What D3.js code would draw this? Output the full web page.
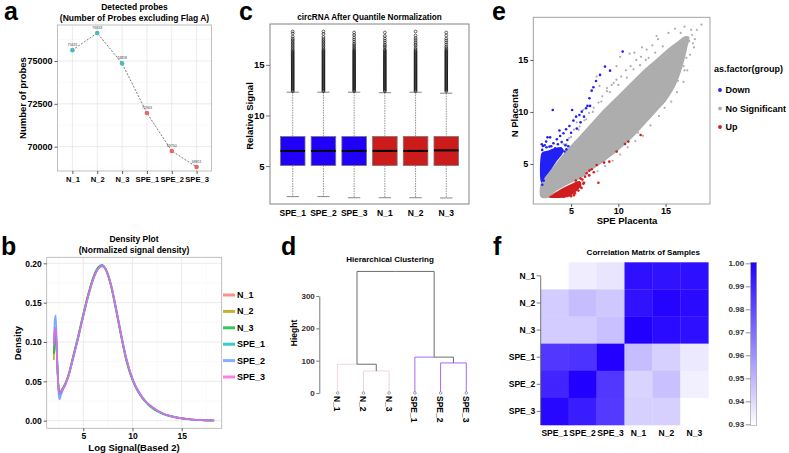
<!DOCTYPE html>
<html><head><meta charset="utf-8">
<script src="https://cdn.jsdelivr.net/npm/d3@7"></script>
<style>
body{margin:0;background:#fff;}
svg{font-family:"Liberation Sans", Arial, Helvetica, sans-serif;}
</style></head><body>
<svg id="fig" width="789" height="453"></svg>
<script>
// ---------------- DATA ----------------
// Panel a
const aSamples = ["N_1","N_2","N_3","SPE_1","SPE_2","SPE_3"];
const aGroups = ["N","N","N","SPE","SPE","SPE"];
const aProbeCounts = [75631, 76633, 74858, 71963, 69750, 68811];
const aYTicks = [70000, 72500, 75000];
const aYMinorTicks = [68750, 71250, 73750, 76250];

// Panel b
const bSamples = ["N_1","N_2","N_3","SPE_1","SPE_2","SPE_3"];
const bX = [2.0,2.1,2.2,2.3,2.4,2.5,2.6,2.7,2.9,3.2,3.6,4.0,4.5,5.0,5.5,6.0,6.5,6.9,7.3,7.8,8.3,8.8,9.3,9.8,10.3,10.8,11.3,11.8,12.5,13.2,14.0,15.0,16.0,17.0,18.3];
const bDensityN1 = [0.095,0.112,0.115,0.090,0.060,0.040,0.034,0.035,0.040,0.047,0.062,0.082,0.107,0.134,0.159,0.180,0.193,0.197,0.192,0.173,0.144,0.112,0.082,0.060,0.044,0.033,0.025,0.019,0.013,0.0085,0.0055,0.003,0.0015,0.0007,0.0002];
const bDensityN2 = [0.077,0.100,0.104,0.085,0.058,0.040,0.035,0.036,0.041,0.048,0.063,0.083,0.108,0.135,0.160,0.181,0.194,0.197,0.191,0.172,0.143,0.111,0.081,0.059,0.044,0.033,0.025,0.019,0.013,0.0085,0.0055,0.003,0.0015,0.0007,0.0002];
const bDensityN3 = [0.085,0.104,0.108,0.088,0.060,0.041,0.036,0.037,0.041,0.048,0.063,0.084,0.109,0.136,0.161,0.182,0.195,0.198,0.192,0.172,0.142,0.110,0.080,0.058,0.043,0.032,0.024,0.018,0.012,0.008,0.005,0.003,0.0015,0.0007,0.0002];
const bDensitySPE1 = [0.092,0.112,0.118,0.092,0.060,0.038,0.033,0.035,0.040,0.047,0.061,0.081,0.106,0.133,0.158,0.180,0.193,0.197,0.192,0.174,0.145,0.113,0.083,0.060,0.044,0.033,0.025,0.019,0.013,0.0085,0.0055,0.003,0.0015,0.0007,0.0002];
const bDensitySPE2 = [0.098,0.128,0.134,0.100,0.058,0.032,0.027,0.031,0.038,0.046,0.061,0.081,0.106,0.133,0.158,0.179,0.193,0.196,0.192,0.174,0.145,0.113,0.083,0.061,0.045,0.034,0.025,0.019,0.013,0.0085,0.0055,0.003,0.0015,0.0007,0.0002];
const bDensitySPE3 = [0.095,0.115,0.118,0.090,0.058,0.038,0.034,0.036,0.040,0.047,0.062,0.082,0.107,0.134,0.159,0.180,0.193,0.197,0.192,0.173,0.144,0.112,0.082,0.060,0.044,0.033,0.025,0.019,0.013,0.0085,0.0055,0.003,0.0015,0.0007,0.0002];
const bXTicks = [5,10,15];
const bXMinor = [2.5,7.5,12.5,17.5];
const bYTicks = [0,0.05,0.10,0.15,0.20];
const bYMinor = [0.025,0.075,0.125,0.175];

// Panel c
const cSamples = ["SPE_1","SPE_2","SPE_3","N_1","N_2","N_3"];
const cGroups = ["SPE","SPE","SPE","N","N","N"];
const cLowerWhisker = [1.98,1.98,1.87,1.87,1.87,1.85];
const cQ1 = [5.05,5.05,5.05,5.05,5.05,5.05];
const cMedian = [6.5,6.5,6.5,6.5,6.5,6.55];
const cQ3 = [7.92,7.92,7.92,7.92,7.92,7.92];
const cUpperWhisker = [12.3,12.3,12.3,12.25,12.3,12.2];
const cOutlierCore = [12.4,12.5,12.6,12.7,12.8,12.9,13.0,13.1,13.2,13.3,13.4,13.5,13.6,13.7,13.8,13.9,14.0,14.1,14.2,14.3,14.4,14.5,14.6,14.7,14.8,14.9,15.0,15.1,15.2,15.3,15.4,15.5,15.6,15.7,15.8,15.9,16.0,16.1,16.2,16.3,16.4];
const cOutlierTails = [
  [16.55,16.7,16.85,17.0,17.15,17.3,17.45,17.6,17.8,18.1,18.3],
  [16.5,16.65,16.8,16.95,17.1,17.25,17.4,17.55,17.75,18.05,18.3],
  [16.5,16.65,16.8,16.95,17.1,17.3,17.5,17.7,17.95,18.2],
  [16.5,16.7,16.85,17.0,17.2,17.4,17.6,17.85,18.2],
  [16.55,16.7,16.9,17.05,17.25,17.45,17.65,17.9,18.3],
  [16.5,16.65,16.8,17.0,17.2,17.4,17.6,17.9,18.2]
];
const cYTicks = [5,10,15];

// Panel d
const dLeaves = ["N_1","N_2","N_3","SPE_1","SPE_2","SPE_3"];
const dLeafGroups = ["N","N","N","SPE","SPE","SPE"];
const dMergeNames = ["m1","m2","m3","m4","root"];
const dMergeLeft = ["N_2","N_1","SPE_2","SPE_1","m2"];
const dMergeRight = ["N_3","m1","SPE_3","m3","m4"];
const dMergeHeight = [68, 89, 93, 111, 376];
const dYTicks = [0,100,200,300];

// Panel e
const eXTicks = [5,10,15];
const eYTicks = [5,10,15];
const eGroups = ["Down","No Significant","Up"];
const eGrayBand = [[1.8,1.8],[2.7,1.8],[3.3,2.3],[4.2,2.8],[5.0,3.2],[6.0,3.6],[7.0,4.3],[8.0,4.9],[9.0,5.6],[10.0,6.3],[11.0,7.1],[12.0,8.0],[13.0,9.0],[14.0,10.0],[15.0,11.0],[15.8,12.1],[16.4,13.3],[16.9,14.7],[17.3,16.2],[17.5,17.2],[17.1,17.3],[16.3,16.8],[15.4,16.2],[14.4,15.4],[13.4,14.6],[12.4,13.8],[11.4,12.9],[10.4,12.0],[9.4,11.1],[8.4,10.2],[7.4,9.2],[6.4,8.2],[5.4,7.2],[4.4,6.2],[3.5,5.2],[2.8,4.4],[2.2,3.7],[1.8,3.2]];
const eGrayPoints = [[3.0,5.6],[3.6,6.3],[4.2,6.9],[4.8,7.5],[5.3,8.3],[5.9,8.6],[6.4,9.2],[6.9,9.9],[7.4,10.4],[7.9,10.9],[8.3,11.5],[8.8,12.0],[9.3,12.6],[9.8,13.1],[10.3,13.4],[10.8,14.0],[11.3,14.4],[11.9,15.0],[12.4,15.3],[13.0,16.0],[13.6,16.4],[14.2,17.0],[14.05,17.3],[12.5,16.2],[11.2,15.6],[11.7,15.7],[10.2,15.3],[9.8,14.4],[8.0,12.5],[7.7,13.4],[8.8,12.3],[9.5,12.8],[6.3,10.2],[5.6,9.0],[15.3,17.6],[16.0,18.0],[17.0,18.2],[18.3,17.9],[18.8,18.4],[17.5,16.8],[3.8,2.1],[4.6,2.6],[5.4,3.1],[6.2,3.3],[7.0,3.9],[7.8,4.3],[8.6,4.8],[9.4,5.3],[10.2,5.9],[11.0,6.6],[11.8,7.2],[12.1,8.0],[12.6,7.7],[12.6,9.7],[13.4,8.7],[13.7,10.2],[14.3,9.6],[14.9,10.4],[15.6,11.0],[16.2,11.9],[16.9,12.9],[17.3,14.0],[17.6,15.5],[16.2,13.4],[16.9,14.4],[14.6,12.6],[18.0,16.2],[13.2,15.2],[12.3,14.5],[17.8,17.4],[18.1,17.0],[17.7,17.9],[16.6,17.6],[17.9,16.6],[17.2,15.2],[16.7,15.9],[15.9,14.6],[16.5,14.8],[15.2,13.6],[14.7,16.3],[13.9,15.7],[12.9,15.0],[11.6,14.1],[10.9,13.3],[10.0,12.6],[9.1,11.9],[8.2,11.0],[7.3,10.0],[6.6,9.3],[5.8,8.3],[5.0,7.6],[4.5,6.9],[3.9,6.1],[3.3,5.6],[13.0,10.1],[14.2,11.2],[15.3,12.0],[11.4,8.7],[10.3,7.6],[9.2,6.7],[8.2,5.8],[7.3,5.1],[6.4,4.4],[5.6,3.8],[4.8,3.3],[12.3,9.1],[16.3,13.0],[17.0,14.0]];
const eBlueArea = [[1.85,3.2],[2.3,3.8],[2.9,4.5],[3.5,5.3],[4.1,6.0],[4.2,6.4],[3.8,6.6],[3.2,6.5],[2.6,6.3],[2.1,6.2],[1.85,6.0]];
const eBluePoints = [[10.46,15.8],[9.12,13.97],[8.59,14.36],[8.06,13.56],[7.64,12.98],[7.36,12.37],[7.18,12.05],[6.94,11.31],[6.73,10.58],[7.01,10.58],[6.58,10.35],[6.13,10.03],[6.37,9.55],[5.88,9.71],[5.53,9.55],[5.25,9.17],[5.11,10.19],[4.82,8.65],[4.47,8.33],[4.19,7.95],[3.84,7.69],[3.77,8.21],[3.49,7.37],[3.06,10.19],[2.78,7.56],[2.5,7.56],[2.36,7.15],[2.01,6.73],[1.94,6.35],[2.71,6.67],[3.13,6.99],[3.31,6.51],[4.0,7.1],[4.6,7.3],[4.4,6.8],[3.6,6.9],[2.2,6.8],[1.9,6.9],[5.0,8.0],[5.6,8.4],[6.0,9.0],[4.5,6.4],[4.7,6.7],[4.3,6.2],[3.9,6.5],[2.9,6.7],[2.4,6.6],[1.95,3.0],[2.1,3.4]];
const eRedArea = [[2.6,1.8],[3.0,2.05],[3.6,2.4],[4.4,2.8],[5.2,3.15],[5.9,3.35],[6.1,3.0],[5.7,2.5],[5.1,2.05],[4.6,1.8]];
const eRedPoints = [[6.65,4.1],[6.94,4.36],[7.18,4.49],[6.48,3.78],[7.71,4.9],[8.49,5.13],[9.05,5.22],[7.89,3.2],[9.82,6.19],[10.7,6.92],[11.06,7.15],[12.36,7.79],[5.95,2.82],[5.77,2.44],[5.42,2.18],[4.72,2.34],[6.37,3.2],[6.2,3.5],[5.0,1.9],[5.3,2.0],[6.9,3.9],[7.4,4.2],[6.3,3.1],[6.1,2.7],[5.5,3.4],[4.2,1.85],[3.8,1.9],[6.0,3.6]];

// Panel f
const fRows = ["N_1","N_2","N_3","SPE_1","SPE_2","SPE_3"];
const fCols = ["SPE_1","SPE_2","SPE_3","N_1","N_2","N_3"];
const fCorr = [
  [0.930,0.935,0.937,0.996,0.995,0.996],
  [0.944,0.948,0.945,0.995,0.999,0.997],
  [0.944,0.944,0.947,1.000,0.997,0.996],
  [0.985,0.986,1.000,0.948,0.943,0.936],
  [0.990,1.000,0.985,0.942,0.947,0.934],
  [0.998,0.992,0.984,0.943,0.943,0.930]
];
const fLegendTicks = [0.93,0.94,0.95,0.96,0.97,0.98,0.99,1.00];

// ---------------- DRAWING ----------------
const FONT = "'Liberation Sans', Arial, Helvetica, sans-serif";
const svg = d3.select("#fig");
svg.append("rect").attr("width",789).attr("height",453).attr("fill","#fff");

function txt(g, x, y, s, o = {}) {
  const t = g.append("text").attr("x", x).attr("y", y).text(s)
    .attr("font-family", FONT)
    .attr("font-size", o.size || 9)
    .attr("font-weight", o.weight || "bold")
    .attr("text-anchor", o.anchor || "middle")
    .attr("fill", o.fill || "#000");
  if (o.baseline) t.attr("dominant-baseline", o.baseline);
  if (o.rotate) t.attr("transform", `rotate(${o.rotate},${x},${y})`);
  return t;
}
function styleAxis(sel, size, o = {}) {
  sel.attr("font-family", FONT);
  if (!o.keepDomain) sel.select(".domain").remove();
  else sel.select(".domain").attr("stroke", o.domainColor || "#444").attr("stroke-width", 0.8);
  sel.selectAll(".tick line").attr("stroke", o.tickColor || "#333").attr("stroke-width", 0.8);
  sel.selectAll(".tick text").attr("font-size", size).attr("font-weight", o.weight || "bold")
    .attr("fill", o.fill || "#000").attr("font-family", FONT);
}

// panel letters
[["a",4,20],["b",1,255],["c",239,20],["d",281,255],["e",492,20],["f",493,255]].forEach(([l,x,y]) =>
  txt(svg, x, y, l, {size: 25, anchor: "start"}));

// ===== Panel a =====
(function(){
  const g = svg.append("g");
  const X0 = 57.5, X1 = 211.5, Y0 = 25, Y1 = 171;
  const x = d3.scalePoint().domain(aSamples).range([X0, X1]).padding(0.6);
  const y = d3.scaleLinear().domain([68580, 77100]).range([Y1, Y0]);
  const colour = d3.scaleOrdinal().domain(["N","SPE"]).range(["#4DB8C0","#E8685E"]);
  aYMinorTicks.forEach(v => g.append("line").attr("x1",X0).attr("x2",X1).attr("y1",y(v)).attr("y2",y(v)).attr("stroke","#F2F2F2").attr("stroke-width",0.5));
  aYTicks.forEach(v => g.append("line").attr("x1",X0).attr("x2",X1).attr("y1",y(v)).attr("y2",y(v)).attr("stroke","#E6E6E6").attr("stroke-width",0.8));
  aSamples.forEach(s => g.append("line").attr("x1",x(s)).attr("x2",x(s)).attr("y1",Y0).attr("y2",Y1).attr("stroke","#E6E6E6").attr("stroke-width",0.8));
  g.append("rect").attr("x",X0).attr("y",Y0).attr("width",X1-X0).attr("height",Y1-Y0).attr("fill","none").attr("stroke","#B0B0B0").attr("stroke-width",0.8);
  const line = d3.line().x((d,i)=>x(aSamples[i])).y(d=>y(d));
  g.append("path").attr("d", line(aProbeCounts)).attr("fill","none").attr("stroke","#555").attr("stroke-width",0.8).attr("stroke-dasharray","2,1.5");
  aProbeCounts.forEach((v,i) => {
    g.append("circle").attr("cx",x(aSamples[i])).attr("cy",y(v)).attr("r",2.3).attr("fill",colour(aGroups[i]));
    txt(g, x(aSamples[i]), y(v)-4, String(v), {size: 3.6, weight: "normal", fill: "#444"});
  });
  const ya = g.append("g").attr("transform",`translate(${X0},0)`).call(d3.axisLeft(y).tickValues(aYTicks).tickSize(3).tickPadding(2).tickFormat(d3.format("d")));
  styleAxis(ya, 9);
  const xa = g.append("g").attr("transform",`translate(0,${Y1})`).call(d3.axisBottom(x).tickSize(3).tickPadding(2.5));
  styleAxis(xa, 7.6);
  txt(g, 134.5, 10, "Detected probes", {size: 8.5});
  txt(g, 134.5, 20.5, "(Number of Probes excluding Flag A)", {size: 8.5});
  txt(g, 25.5, 98, "Number of probes", {size: 9.5, rotate: -90});
})();

// ===== Panel b =====
(function(){
  const g = svg.append("g");
  const X0 = 46.7, X1 = 221.7, Y0 = 257.3, Y1 = 428.3;
  const x = d3.scaleLinear().domain([1.28, 19.07]).range([X0, X1]);
  const y = d3.scaleLinear().domain([-0.0097, 0.2077]).range([Y1, Y0]);
  const colour = d3.scaleOrdinal().domain(bSamples).range(["#F8766D","#B79F00","#00BA38","#00BFC4","#619CFF","#F564E3"]);
  bXMinor.forEach(v => g.append("line").attr("x1",x(v)).attr("x2",x(v)).attr("y1",Y0).attr("y2",Y1).attr("stroke","#F2F2F2").attr("stroke-width",0.5));
  bYMinor.forEach(v => g.append("line").attr("x1",X0).attr("x2",X1).attr("y1",y(v)).attr("y2",y(v)).attr("stroke","#F2F2F2").attr("stroke-width",0.5));
  bXTicks.forEach(v => g.append("line").attr("x1",x(v)).attr("x2",x(v)).attr("y1",Y0).attr("y2",Y1).attr("stroke","#E6E6E6").attr("stroke-width",0.8));
  bYTicks.forEach(v => g.append("line").attr("x1",X0).attr("x2",X1).attr("y1",y(v)).attr("y2",y(v)).attr("stroke","#E6E6E6").attr("stroke-width",0.8));
  const series = [bDensityN1,bDensityN2,bDensityN3,bDensitySPE1,bDensitySPE2,bDensitySPE3];
  const line = d3.line().x((d,i)=>x(bX[i])).y(d=>y(d)).curve(d3.curveMonotoneX);
  series.forEach((s,k) => g.append("path").attr("d", line(s)).attr("fill","none").attr("stroke",colour(bSamples[k])).attr("stroke-width",1.7).attr("stroke-opacity",0.85));
  g.append("rect").attr("x",X0).attr("y",Y0).attr("width",X1-X0).attr("height",Y1-Y0).attr("fill","none").attr("stroke","#B0B0B0").attr("stroke-width",0.8);
  const ya = g.append("g").attr("transform",`translate(${X0},0)`).call(d3.axisLeft(y).tickValues(bYTicks).tickSize(3).tickPadding(2).tickFormat(d3.format(".2f")));
  styleAxis(ya, 8.5);
  const xa = g.append("g").attr("transform",`translate(0,${Y1})`).call(d3.axisBottom(x).tickValues(bXTicks).tickSize(3).tickPadding(2));
  styleAxis(xa, 8.5);
  txt(g, 134, 241.5, "Density Plot", {size: 8.5});
  txt(g, 134, 252.5, "(Normalized signal density)", {size: 8.5});
  txt(g, 134, 450.5, "Log Signal(Based 2)", {size: 9.5});
  txt(g, 20.5, 343, "Density", {size: 9.5, rotate: -90});
  bSamples.forEach((s,i) => {
    const yy = 295 + i*16.4;
    g.append("line").attr("x1",223).attr("x2",235).attr("y1",yy).attr("y2",yy).attr("stroke",colour(s)).attr("stroke-width",3).attr("stroke-opacity",0.8);
    txt(g, 237, yy, s, {size: 9, anchor: "start", baseline: "central"});
  });
})();

// ===== Panel c =====
(function(){
  const g = svg.append("g");
  const X0 = 270, X1 = 469, Y0 = 24, Y1 = 204;
  const x = d3.scaleLinear().domain([0.26, 6.74]).range([X0, X1]);
  const y = d3.scaleLinear().domain([1.25, 19.04]).range([Y1, Y0]);
  const colour = d3.scaleOrdinal().domain(["SPE","N"]).range(["#2100FA","#CC1B1B"]);
  const bw = 0.8;
  cSamples.forEach((s,i) => {
    const cx = x(i+1), hw = (x(bw/2) - x(0));
    g.append("line").attr("x1",cx).attr("x2",cx).attr("y1",y(cUpperWhisker[i])).attr("y2",y(cQ3[i])).attr("stroke","#777").attr("stroke-width",0.8).attr("stroke-dasharray","1.5,1");
    g.append("line").attr("x1",cx).attr("x2",cx).attr("y1",y(cQ1[i])).attr("y2",y(cLowerWhisker[i])).attr("stroke","#777").attr("stroke-width",0.8).attr("stroke-dasharray","1.5,1");
    g.append("line").attr("x1",cx-hw/2).attr("x2",cx+hw/2).attr("y1",y(cUpperWhisker[i])).attr("y2",y(cUpperWhisker[i])).attr("stroke","#777").attr("stroke-width",0.9);
    g.append("line").attr("x1",cx-hw/2).attr("x2",cx+hw/2).attr("y1",y(cLowerWhisker[i])).attr("y2",y(cLowerWhisker[i])).attr("stroke","#777").attr("stroke-width",0.9);
    g.append("rect").attr("x",cx-hw).attr("y",y(cQ3[i])).attr("width",2*hw).attr("height",y(cQ1[i])-y(cQ3[i])).attr("fill",colour(cGroups[i])).attr("stroke","#777").attr("stroke-width",0.8);
    g.append("line").attr("x1",cx-hw).attr("x2",cx+hw).attr("y1",y(cMedian[i])).attr("y2",y(cMedian[i])).attr("stroke","#000").attr("stroke-width",2);
    cOutlierCore.concat(cOutlierTails[i]).forEach(v => g.append("circle").attr("cx",cx).attr("cy",y(v)).attr("r",1.4).attr("fill","none").attr("stroke","#000").attr("stroke-width",0.6));
    txt(g, cx, 215.5, s, {size: 8.5});
  });
  g.append("rect").attr("x",X0).attr("y",Y0).attr("width",X1-X0).attr("height",Y1-Y0).attr("fill","none").attr("stroke","#777").attr("stroke-width",0.9);
  const ya = g.append("g").attr("transform",`translate(${X0},0)`).call(d3.axisLeft(y).tickValues(cYTicks).tickSize(4).tickPadding(1.5));
  styleAxis(ya, 9.5, {tickColor:"#555"});
  txt(g, 369.5, 20, "circRNA After Quantile Normalization", {size: 8.2});
  txt(g, 253, 116, "Relative Signal", {size: 9.5, rotate: -90});
})();

// ===== Panel d =====
(function(){
  const g = svg.append("g");
  const x = d3.scalePoint().domain(dLeaves).range([337.7, 466.3]);
  const y = d3.scaleLinear().domain([0, 300]).range([393, 296]);
  const colour = d3.scaleOrdinal().domain(["N","SPE"]).range(["#EFD3DE","#A56BF2"]);
  const nodes = {};
  dLeaves.forEach((l,i) => nodes[l] = {x: x(l), h: 0, leaf: true, group: dLeafGroups[i]});
  dMergeNames.forEach((m,i) => {
    const a = nodes[dMergeLeft[i]], b = nodes[dMergeRight[i]];
    nodes[m] = {x: (a.x + b.x)/2, h: dMergeHeight[i], leaf: false, kids: [a, b]};
  });
  dMergeNames.forEach(m => {
    const p = nodes[m];
    p.kids.forEach(c => {
      g.append("path").attr("d", `M${p.x},${y(p.h)}H${c.x}V${y(c.h)}`)
        .attr("fill","none").attr("stroke", c.leaf ? colour(c.group) : "#6E6E6E").attr("stroke-width",1);
    });
  });
  dLeaves.forEach(l => {
    g.append("circle").attr("cx",x(l)).attr("cy",y(0)).attr("r",1.3).attr("fill","#fff").attr("stroke","#666").attr("stroke-width",0.6);
    txt(g, x(l)-0.5, y(0)+3, l, {size: 8.5, anchor: "start", baseline: "central", rotate: 90});
  });
  const ya = g.append("g").attr("transform","translate(319.3,0)").call(d3.axisLeft(y).tickValues(dYTicks).tickSize(3).tickSizeOuter(0).tickPadding(1.5));
  styleAxis(ya, 8, {keepDomain: true, domainColor:"#555", tickColor:"#555", fill:"#3a2a2a"});
  txt(g, 390, 262, "Hierarchical Clustering", {size: 8});
  txt(g, 296.5, 333, "Hieght", {size: 8.5, rotate: -90});
})();

// ===== Panel e =====
(function(){
  const g = svg.append("g");
  const X0 = 533.3, X1 = 710, Y0 = 17.3, Y1 = 204;
  const x = d3.scaleLinear().domain([1.0, 19.7]).range([X0, X1]);
  const y = d3.scaleLinear().domain([1.15, 19.1]).range([Y1, Y0]);
  const colour = d3.scaleOrdinal().domain(eGroups).range(["#2121F5","#ADADAD","#D01E1E"]);
  const area = d3.line().x(d=>x(d[0])).y(d=>y(d[1])).curve(d3.curveCatmullRomClosed.alpha(0.5));
  g.append("path").attr("d", area(eGrayBand)).attr("fill", colour("No Significant"));
  eGrayPoints.forEach(p => g.append("circle").attr("cx",x(p[0])).attr("cy",y(p[1])).attr("r",1.1).attr("fill",colour("No Significant")));
  g.append("path").attr("d", area(eBlueArea)).attr("fill", colour("Down"));
  eBluePoints.forEach(p => g.append("circle").attr("cx",x(p[0])).attr("cy",y(p[1])).attr("r",1.3).attr("fill",colour("Down")));
  g.append("path").attr("d", area(eRedArea)).attr("fill", colour("Up"));
  eRedPoints.forEach(p => g.append("circle").attr("cx",x(p[0])).attr("cy",y(p[1])).attr("r",1.3).attr("fill",colour("Up")));
  g.append("rect").attr("x",X0).attr("y",Y0).attr("width",X1-X0).attr("height",Y1-Y0).attr("fill","none").attr("stroke","#999").attr("stroke-width",0.9);
  const xa = g.append("g").attr("transform",`translate(0,${Y1})`).call(d3.axisBottom(x).tickValues(eXTicks).tickSize(3).tickPadding(1));
  styleAxis(xa, 9, {tickColor:"#333"});
  const ya = g.append("g").attr("transform",`translate(${X0},0)`).call(d3.axisLeft(y).tickValues(eYTicks).tickSize(3).tickPadding(2));
  styleAxis(ya, 9, {tickColor:"#333"});
  txt(g, 627, 224, "SPE Placenta", {size: 9.5});
  txt(g, 517.5, 113, "N Placenta", {size: 9.5, rotate: -90});
  txt(g, 714, 72, "as.factor(group)", {size: 9, anchor: "start"});
  eGroups.forEach((s,i) => {
    const yy = 90 + i*18.5;
    g.append("circle").attr("cx",720).attr("cy",yy).attr("r",1.9).attr("fill",colour(s));
    txt(g, 725.5, yy, s, {size: 9, anchor: "start", baseline: "central"});
  });
})();

// ===== Panel f =====
(function(){
  const g = svg.append("g");
  const X0 = 540.7, X1 = 708.3, Y0 = 262.3, Y1 = 425;
  const x = d3.scaleBand().domain(fCols).range([X0, X1]);
  const y = d3.scaleBand().domain(fRows).range([Y0, Y1]);
  const colour = d3.scaleLinear().domain([0.93, 1.0]).range(["#FFFFFF","#2100FF"]).clamp(true);
  fRows.forEach((r,i) => fCols.forEach((c,j) => {
    g.append("rect").attr("x",x(c)).attr("y",y(r)).attr("width",x.bandwidth()+0.3).attr("height",y.bandwidth()+0.3).attr("fill",colour(fCorr[i][j]));
  }));
  const ya = g.append("g").attr("transform",`translate(${X0},0)`).call(d3.axisLeft(y).tickSize(4).tickPadding(1.5));
  styleAxis(ya, 8.5, {tickColor:"#555"});
  g.append("line").attr("x1",X0).attr("x2",X0).attr("y1",y(fRows[0])+y.bandwidth()/2).attr("y2",Y1).attr("stroke","#555").attr("stroke-width",0.8);
  const xa = g.append("g").attr("transform",`translate(0,${Y1})`).call(d3.axisBottom(x).tickSize(0).tickPadding(5));
  styleAxis(xa, 8.5);
  txt(g, 643.3, 254.5, "Correlation Matrix of Samples", {size: 8});
  const ly = d3.scaleLinear().domain([0.93, 1.0]).range([424.3, 263.3]);
  const defs = svg.append("defs");
  const grad = defs.append("linearGradient").attr("id","fgrad").attr("x1",0).attr("x2",0).attr("y1",1).attr("y2",0);
  fLegendTicks.forEach(v => grad.append("stop").attr("offset", (v-0.93)/0.07).attr("stop-color", colour(v)));
  g.append("rect").attr("x",750.7).attr("y",262.3).attr("width",6).attr("height",163.4).attr("fill","url(#fgrad)").attr("stroke","#999").attr("stroke-width",0.6);
  const la = g.append("g").attr("transform","translate(750.7,0)").call(d3.axisLeft(ly).tickValues(fLegendTicks).tickSize(5).tickPadding(1.5).tickFormat(d3.format(".2f")));
  styleAxis(la, 8, {tickColor:"#777", fill:"#333"});
})();
</script>
</body></html>
